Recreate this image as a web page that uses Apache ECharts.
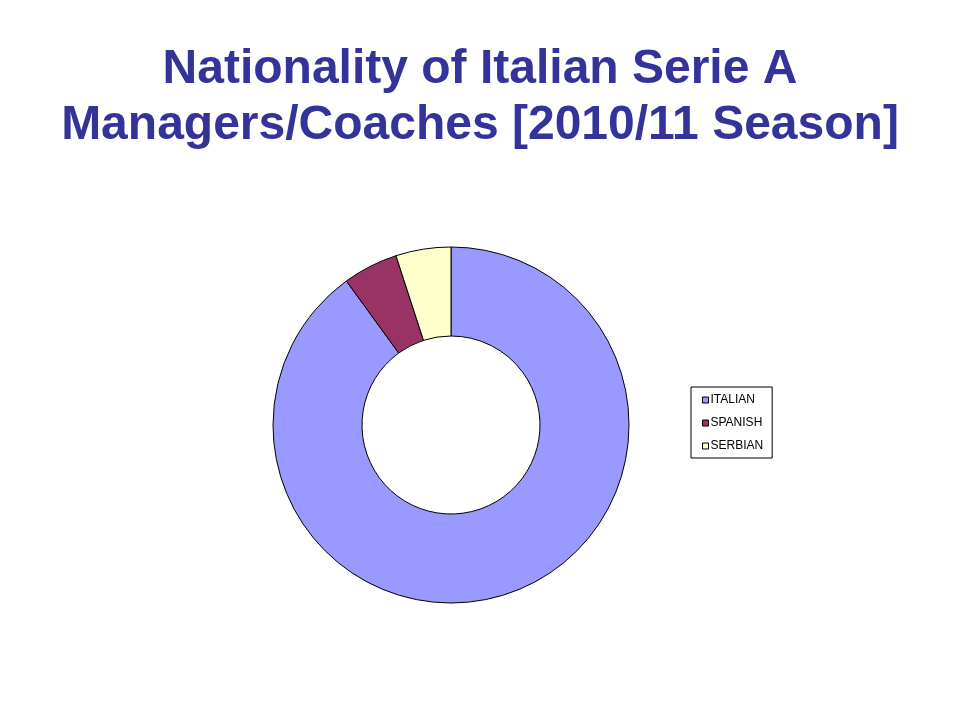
<!DOCTYPE html>
<html><head><meta charset="utf-8">
<script src="https://cdn.jsdelivr.net/npm/echarts@6/dist/echarts.min.js"></script>
<style>html,body{margin:0;padding:0;background:#fff}#c{width:960px;height:720px}</style>
</head><body><div id="c"></div>
<script>
const categories = ["ITALIAN", "SPANISH", "SERBIAN"];
const values = [18, 1, 1];
const colors = ["#9999FF", "#993366", "#FFFFCC"];
const titleText = "Nationality of Italian Serie A\nManagers/Coaches [2010/11 Season]";

const chart = echarts.init(document.getElementById('c'), null, {renderer: 'canvas'});
chart.setOption({
  animation: false,
  backgroundColor: '#ffffff',
  title: {
    text: titleText,
    left: 'center',
    top: 37,
    textStyle: {fontFamily: 'Liberation Sans, Arial, sans-serif', fontSize: 48, fontWeight: 'bold', color: '#333399', lineHeight: 56}
  },
  legend: {
    orient: 'vertical',
    left: 691, top: 387,
    data: categories,
    icon: 'rect',
    itemWidth: 6, itemHeight: 6, itemGap: 9,
    padding: [6, 9, 5, 11],
    borderColor: '#000', borderWidth: 1,
    itemStyle: {borderColor: '#000', borderWidth: 1},
    textStyle: {fontFamily: 'Liberation Sans, Arial, sans-serif', fontSize: 12, lineHeight: 14, color: '#000', padding: [0,0,0,-3]},
    selectedMode: false
  },
  series: [{
    type: 'pie',
    center: [451, 425],
    radius: [89, 178],
    startAngle: 90,
    clockwise: true,
    label: {show: false},
    labelLine: {show: false},
    emphasis: {disabled: true},
    itemStyle: {borderColor: '#000', borderWidth: 1},
    data: categories.map((c, i) => ({name: c, value: values[i], itemStyle: {color: colors[i]}}))
  }]
});
</script></body></html>
